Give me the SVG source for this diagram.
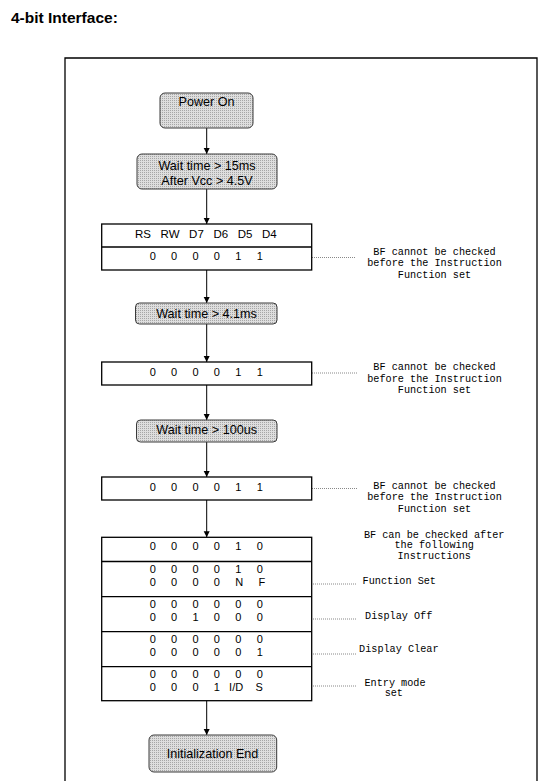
<svg xmlns="http://www.w3.org/2000/svg" width="543" height="781" viewBox="0 0 543 781">
<defs>
<pattern id="dots" width="2" height="2" patternUnits="userSpaceOnUse">
<rect width="2" height="2" fill="#dedede"/>
<rect width="1" height="1" fill="#a6a6a6"/>
</pattern>
<marker id="ah" markerWidth="7" markerHeight="7" refX="6" refY="3" orient="auto" markerUnits="userSpaceOnUse">
<path d="M0,0 L6,3 L0,6 Z" fill="#000"/>
</marker>
<style>
.box{fill:url(#dots);stroke:#3a3a3a;stroke-width:1}
.tbl{fill:#fff;stroke:#000;stroke-width:1.3}
.div{stroke:#000;stroke-width:1.3}
.lbl{font-family:"Liberation Sans",Arial,sans-serif;font-size:12.6px;text-anchor:middle;fill:#000}
.hdr{font-family:"Liberation Sans",Arial,sans-serif;font-size:11.5px;fill:#000;white-space:pre}
.cell{font-family:"Liberation Sans",Arial,sans-serif;font-size:11px;fill:#000;white-space:pre}
.note{font-family:"Liberation Mono","Courier New",monospace;font-size:10.2px;text-anchor:middle;fill:#000}
.lead{stroke:#888;stroke-width:1;stroke-dasharray:1 1;fill:none}
.conn line{stroke:#000;stroke-width:1;marker-end:url(#ah)}
</style>
</defs>
<rect width="543" height="781" fill="#fff"/>
<text x="11" y="22.7" font-family="Liberation Sans, Arial, sans-serif" font-size="15.5" font-weight="bold">4-bit Interface:</text>
<path d="M65,790 V58 H537 V790" fill="none" stroke="#000" stroke-width="1.3"/>

<g class="conn" id="connectors">
<line x1="206.7" y1="128" x2="206.7" y2="154"/>
<line x1="206.7" y1="189" x2="206.7" y2="224"/>
<line x1="206.7" y1="270" x2="206.7" y2="303"/>
<line x1="206.7" y1="324" x2="206.7" y2="362"/>
<line x1="206.7" y1="385" x2="206.7" y2="420"/>
<line x1="206.7" y1="442" x2="206.7" y2="477"/>
<line x1="206.7" y1="500" x2="206.7" y2="537.3"/>
<line x1="206.7" y1="700.7" x2="206.7" y2="735"/>
</g>

<g id="leaders">
<line class="lead" x1="312" y1="257.5" x2="355" y2="257.5"/>
<line class="lead" x1="312" y1="373" x2="358" y2="373"/>
<line class="lead" x1="312" y1="488.5" x2="357" y2="488.5"/>
<line class="lead" x1="313" y1="584" x2="357" y2="584"/>
<line class="lead" x1="313" y1="619" x2="357" y2="619"/>
<line class="lead" x1="313" y1="654" x2="357" y2="654"/>
<line class="lead" x1="313" y1="686" x2="357" y2="686"/>
</g>

<g id="power-on">
<rect class="box" x="160" y="93" width="93" height="35" rx="5"/>
<text class="lbl" x="206.5" y="106">Power On</text>
</g>

<g id="wait-15ms">
<rect class="box" x="137" y="154" width="140" height="35" rx="5"/>
<text class="lbl" x="207" y="169.5">Wait time &gt; 15ms</text>
<text class="lbl" x="207" y="184.5">After Vcc &gt; 4.5V</text>
</g>

<g id="table-1">
<rect class="tbl" x="101.7" y="224" width="210" height="46"/>
<line class="div" x1="101.7" y1="247" x2="311.7" y2="247"/>
<text class="hdr" x="135" y="237.5" xml:space="preserve">RS   RW   D7   D6   D5   D4</text>
<text class="cell" x="149.65" y="260" xml:space="preserve">0     0     0     0     1     1</text>
</g>

<g id="note-1">
<text class="note" x="434.5" y="254.5">BF cannot be checked</text>
<text class="note" x="434.5" y="266">before the Instruction</text>
<text class="note" x="434.5" y="277.5">Function set</text>
</g>

<g id="wait-4-1ms">
<rect class="box" x="135.5" y="303" width="141.5" height="21" rx="4"/>
<text class="lbl" x="206.5" y="317.5">Wait time &gt; 4.1ms</text>
</g>

<g id="table-2">
<rect class="tbl" x="101.7" y="362" width="210" height="23"/>
<text class="cell" x="149.65" y="375.5" xml:space="preserve">0     0     0     0     1     1</text>
</g>

<g id="note-2">
<text class="note" x="434.5" y="370">BF cannot be checked</text>
<text class="note" x="434.5" y="381.5">before the Instruction</text>
<text class="note" x="434.5" y="393">Function set</text>
</g>

<g id="wait-100us">
<rect class="box" x="136.5" y="420" width="140.5" height="22" rx="4"/>
<text class="lbl" x="206.7" y="434">Wait time &gt; 100us</text>
</g>

<g id="table-3">
<rect class="tbl" x="101.7" y="477" width="210" height="23"/>
<text class="cell" x="149.65" y="490.5" xml:space="preserve">0     0     0     0     1     1</text>
</g>

<g id="note-3">
<text class="note" x="434.5" y="488.5">BF cannot be checked</text>
<text class="note" x="434.5" y="500">before the Instruction</text>
<text class="note" x="434.5" y="511.5">Function set</text>
</g>

<g id="table-4">
<rect class="tbl" x="101.7" y="537.3" width="210" height="163.4"/>
<line class="div" x1="101.7" y1="561.5" x2="311.7" y2="561.5"/>
<line class="div" x1="101.7" y1="596.7" x2="311.7" y2="596.7"/>
<line class="div" x1="101.7" y1="631.7" x2="311.7" y2="631.7"/>
<line class="div" x1="101.7" y1="666.7" x2="311.7" y2="666.7"/>
<text class="cell" x="149.65" y="549.5" xml:space="preserve">0     0     0     0     1     0</text>
<text class="cell" x="149.65" y="573" xml:space="preserve">0     0     0     0     1     0</text>
<text class="cell" x="149.65" y="586" xml:space="preserve">0     0     0     0     N     F</text>
<text class="cell" x="149.65" y="608.2" xml:space="preserve">0     0     0     0     0     0</text>
<text class="cell" x="149.65" y="621.2" xml:space="preserve">0     0     1     0     0     0</text>
<text class="cell" x="149.65" y="643.2" xml:space="preserve">0     0     0     0     0     0</text>
<text class="cell" x="149.65" y="656.2" xml:space="preserve">0     0     0     0     0     1</text>
<text class="cell" x="149.65" y="678.2" xml:space="preserve">0     0     0     0     0     0</text>
<text class="cell" x="149.65" y="691.2" xml:space="preserve">0     0     0     1   I/D    S</text>
</g>

<g id="note-4">
<text class="note" x="434.2" y="537.5">BF can be checked after</text>
<text class="note" x="434.2" y="548">the following</text>
<text class="note" x="434.2" y="558.5">Instructions</text>
<text class="note" x="399.3" y="584">Function Set</text>
<text class="note" x="398.7" y="619">Display Off</text>
<text class="note" x="398.8" y="651.5">Display Clear</text>
<text class="note" x="395" y="685.5">Entry mode</text>
<text class="note" x="393.8" y="696">set</text>
</g>

<g id="init-end">
<rect class="box" x="149" y="735" width="127.7" height="37" rx="5"/>
<text class="lbl" x="212.5" y="757.5">Initialization End</text>
</g>
</svg>
